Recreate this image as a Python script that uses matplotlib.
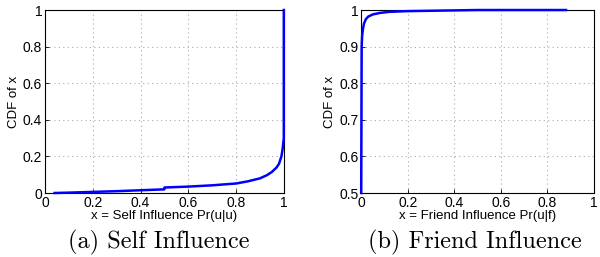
import numpy as np
import matplotlib.pyplot as plt

# self influence CDF
selfX = [0.04, 0.1, 0.2, 0.3, 0.4, 0.5, 0.5, 0.6, 0.7, 0.8, 0.85, 0.9, 0.93, 0.95, 0.97, 0.98, 0.99, 0.995, 1.0, 1.0]
selfY = [0.0, 0.002, 0.006, 0.01, 0.015, 0.02, 0.03, 0.035, 0.042, 0.052, 0.064, 0.08, 0.098, 0.115, 0.14, 0.16, 0.2, 0.24, 0.3, 1.0]

# friend influence CDF
friendX = [0.0, 0.002, 0.004, 0.008, 0.012, 0.02, 0.03, 0.05, 0.08, 0.12, 0.2, 0.3, 0.5, 0.88]
friendY = [0.5, 0.9, 0.93, 0.95, 0.963, 0.975, 0.982, 0.988, 0.992, 0.995, 0.997, 0.998, 1.0, 1.0]

fig = plt.figure(figsize=(6, 2.57), dpi=100)

fonteTick = {'family': 'Liberation Sans', 'size': 10}

def painel(ax, x, y, xlabel, ylim, yticks):
    ax.plot(x, y, color='#0000ff', lw=1.8, clip_on=False, zorder=3)
    ax.set_xlim(0, 1)
    ax.set_ylim(*ylim)
    ax.set_xticks([0, 0.2, 0.4, 0.6, 0.8, 1])
    ax.set_xticklabels(['0', '0.2', '0.4', '0.6', '0.8', '1'], **fonteTick)
    ax.set_yticks(yticks)
    ax.set_yticklabels(['%g' % t for t in yticks], **fonteTick)
    ax.tick_params(direction='in', length=3, pad=2, width=0.6)
    ax.grid(True, linestyle=(0, (1, 3)), color='#aaaaaa', lw=0.8)
    for s in ax.spines.values():
        s.set_linewidth(0.8)
    ax.set_xlabel(xlabel, family='Liberation Sans', size=9.5, labelpad=0)
    ax.set_ylabel('CDF of x', family='Liberation Sans', size=9.5, labelpad=2)

ax1 = fig.add_axes([0.075, 0.249, 0.398, 0.712])
painel(ax1, selfX, selfY, 'x = Self Influence Pr(u|u)', (0, 1),
       [0, 0.2, 0.4, 0.6, 0.8, 1])

ax2 = fig.add_axes([0.602, 0.249, 0.388, 0.712])
painel(ax2, friendX, friendY, 'x = Friend Influence Pr(u|f)', (0.5, 1),
       [0.5, 0.6, 0.7, 0.8, 0.9, 1])

# legendas das figuras
fig.text(0.265, 0.055, '(a) Self Influence', ha='center', va='center', family='cmr10', size=17.5)
fig.text(0.791, 0.055, '(b) Friend Influence', ha='center', va='center', family='cmr10', size=17.5)

fig.savefig('out.png', dpi=100)
